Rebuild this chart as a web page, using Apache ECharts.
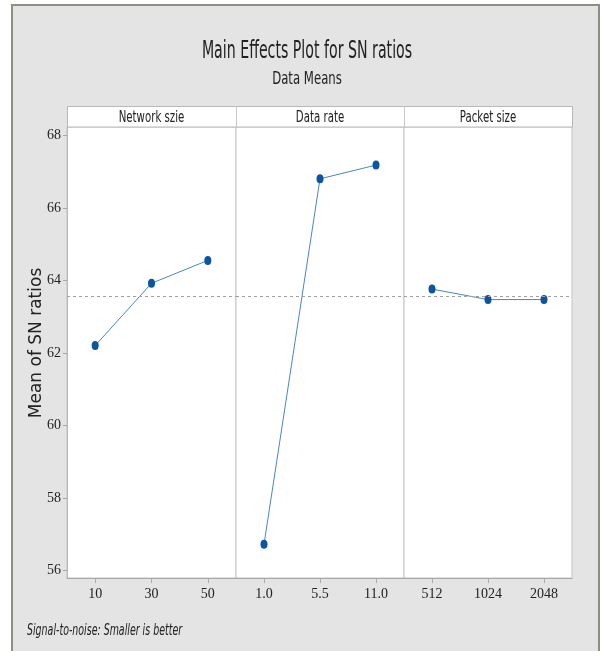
<!DOCTYPE html>
<html>
<head>
<meta charset="utf-8">
<script src="https://cdn.jsdelivr.net/npm/echarts@6/dist/echarts.min.js"></script>
<style>html,body{margin:0;padding:0;background:#fff}#c{width:602px;height:651px}</style>
</head>
<body>
<div id="c"></div>
<script>
const factorNames = ['Network szie', 'Data rate', 'Packet size'];
const networkSize = ['10', '30', '50'];
const networkMeans = [62.21, 63.93, 64.56];
const dataRate = ['1.0', '5.5', '11.0'];
const dataRateMeans = [56.73, 66.81, 67.19];
const packetSize = ['512', '1024', '2048'];
const packetMeans = [63.77, 63.48, 63.48];
const yTicks = [56, 58, 60, 62, 64, 66, 68];
const chartTitle = 'Main Effects Plot for SN ratios';
const chartSubtitle = 'Data Means';
const footnote = 'Signal-to-noise: Smaller is better';
const yName = 'Mean of SN ratios';

const allVals = networkMeans.concat(dataRateMeans, packetMeans);
const grandMean = allVals.reduce((a, b) => a + b, 0) / allVals.length;

const cats = [networkSize, dataRate, packetSize];
const vals = [networkMeans, dataRateMeans, packetMeans];
const lefts = [67, 236, 404];
const widths = [169, 168, 168];
const gridTop = 127, gridBottom = 73;

const tickFont = 'Liberation Serif';
const sans = 'DejaVu Sans';

const grids = [], xAxes = [], yAxes = [], series = [];
for (let i = 0; i < 3; i++) {
  grids.push({left: lefts[i], width: widths[i], top: gridTop, bottom: gridBottom,
    show: true, backgroundColor: '#ffffff', borderColor: '#c4c4c4', borderWidth: 1});
  xAxes.push({type: 'category', gridIndex: i, data: cats[i], boundaryGap: true,
    axisLine: {show: true, lineStyle: {color: '#a8a8a8'}},
    axisTick: {show: true, alignWithLabel: true, length: 5, lineStyle: {color: '#a8a8a8'}},
    axisLabel: {margin: 9, fontFamily: tickFont, fontSize: 14, color: '#222'},
    splitLine: {show: false}});
  yAxes.push({type: 'value', gridIndex: i, min: 55.8, max: 68.24,
    axisLine: {show: i === 0, lineStyle: {color: '#b8b8b8'}},
    axisTick: {show: i === 0, length: 4, customValues: yTicks, lineStyle: {color: '#a8a8a8'}},
    axisLabel: {show: i === 0, customValues: yTicks, margin: 6, fontFamily: tickFont, fontSize: 14, color: '#222'},
    splitLine: {show: false}});
  series.push({type: 'line', xAxisIndex: i, yAxisIndex: i, data: vals[i],
    symbol: 'circle', symbolSize: [7, 9],
    lineStyle: {color: '#4a86c8', width: 1},
    itemStyle: {color: '#0b55a3'},
    markLine: {silent: true, symbol: 'none', label: {show: false},
      lineStyle: {color: '#a0a0a0', type: [3, 3], width: 1},
      data: [{yAxis: grandMean}]},
    z: 3});
}

function label(text, x, y, size, sx, align, italic) {
  return {type: 'text', x: x, y: y, scaleX: sx, silent: true, z: 10,
    style: {text: text, fill: '#222', textAlign: align || 'center', textVerticalAlign: 'middle',
      font: (italic ? 'italic ' : '') + size + 'px "' + sans + '"'}};
}

const graphics = [
  {type: 'rect', shape: {x: 0, y: 0, width: 602, height: 4}, style: {fill: '#ffffff'}, silent: true},
  {type: 'rect', shape: {x: 0, y: 0, width: 11, height: 651}, style: {fill: '#ffffff'}, silent: true},
  {type: 'rect', shape: {x: 600, y: 0, width: 2, height: 651}, style: {fill: '#ffffff'}, silent: true},
  {type: 'polyline', shape: {points: [[12, 660], [12, 5], [599, 5], [599, 660]]},
    style: {stroke: '#8e8e86', lineWidth: 2, fill: null}, silent: true},
  {type: 'rect', shape: {x: 67.5, y: 106.5, width: 505, height: 20.5},
    style: {fill: '#ffffff', stroke: '#b8b8b8', lineWidth: 1}, silent: true},
  {type: 'line', shape: {x1: 236.5, y1: 106.5, x2: 236.5, y2: 127}, style: {stroke: '#c8c8c8', lineWidth: 1}, silent: true},
  {type: 'line', shape: {x1: 404.5, y1: 106.5, x2: 404.5, y2: 127}, style: {stroke: '#c8c8c8', lineWidth: 1}, silent: true},
  label(chartTitle, 307, 52, 24, 0.59),
  label(chartSubtitle, 307, 79, 18, 0.65),
  label(footnote, 27, 631, 15, 0.63, 'left', true),
  {type: 'text', x: 37, y: 343, rotation: Math.PI / 2, silent: true, z: 10,
    style: {text: yName, fill: '#222', textAlign: 'center', textVerticalAlign: 'middle',
      font: '17px "' + sans + '"'}}
];
for (let i = 0; i < 3; i++) {
  graphics.push(label(factorNames[i], lefts[i] + widths[i] / 2, 118, 15, 0.68));
}

const chart = echarts.init(document.getElementById('c'), null, {renderer: 'canvas'});
chart.setOption({
  backgroundColor: '#e4e4e4',
  animation: false,
  graphic: graphics,
  grid: grids,
  xAxis: xAxes,
  yAxis: yAxes,
  series: series
});
</script>
</body>
</html>
